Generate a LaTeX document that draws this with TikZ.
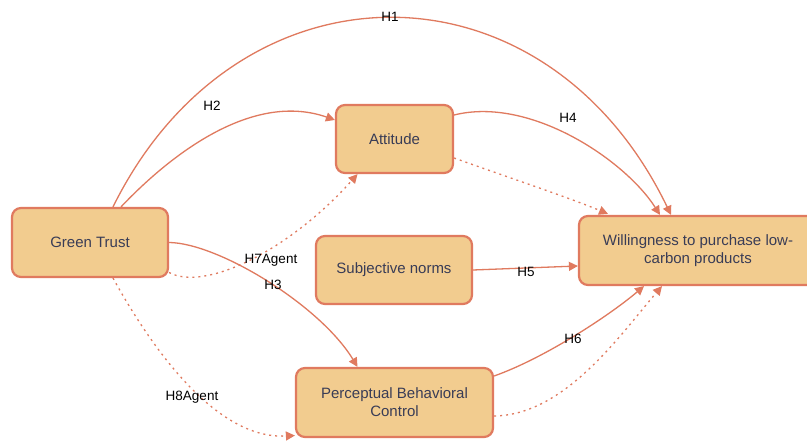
\documentclass[tikz,border=0pt]{standalone}
\usepackage{fontspec}
\setmainfont{Liberation Sans}
\usetikzlibrary{arrows.meta}
\definecolor{boxfill}{HTML}{F2CC8F}
\definecolor{boxline}{HTML}{E07A5F}
\definecolor{boxtext}{HTML}{393C56}
\begin{document}
\begin{tikzpicture}[x=1pt,y=-1pt,
  box/.style={draw=boxline, line width=2.2pt, fill=boxfill, rounded corners=9pt,
    text=boxtext, font=\fontsize{15}{18}\selectfont, align=center, inner sep=0pt},
  link/.style={draw=boxline, line width=1.3pt, -{Triangle[length=9pt,width=9pt]}},
  dotlink/.style={link, dash pattern=on 2pt off 4pt},
  lab/.style={font=\fontsize{13.5}{16}\selectfont, text=black, inner sep=1pt}]
\useasboundingbox (0,0) rectangle (807,443);
\fill[white] (0,0) rectangle (807,443);

\node[box, minimum width=156pt, minimum height=69pt] (gt) at (90,242.5) {\raisebox{-1.5pt}{Green Trust}};
\node[box, minimum width=117pt, minimum height=68pt] (at) at (394.5,139) {\raisebox{-1.5pt}{Attitude}};
\node[box, minimum width=156pt, minimum height=68pt] (sn) at (394,270) {\raisebox{-2pt}{Subjective norms}};
\node[box, minimum width=238pt, minimum height=69pt] (wp) at (698,250.5) {Willingness to purchase low-\\carbon products};
\node[box, minimum width=197pt, minimum height=69pt] (pb) at (394.5,402.5) {Perceptual Behavioral\\Control};

% H1
\draw[link] ([xshift=23pt]gt.north) .. controls (238,-46) and (545,-46) .. ([xshift=-27pt]wp.north);
% H2
\draw[link] ([xshift=31pt]gt.north) .. controls (175,150) and (255,92) .. ([yshift=19pt]at.west);
% H4
\draw[link] ([yshift=24pt]at.east) .. controls (530,96) and (625,160) .. ([xshift=-38pt]wp.north);
% Attitude -> Willingness dotted
\draw[dotlink] ([yshift=-19pt]at.east) .. controls (510,178) and (570,198) .. ([xshift=-90pt,yshift=1pt]wp.north);
% H7Agent
\draw[dotlink] ([yshift=-30pt]gt.east) .. controls (205,292) and (290,250) .. ([xshift=-37pt]at.south);
% H3
\draw[link] (gt.east) .. controls (218,243) and (320,305) .. ([xshift=-37pt]pb.north);
% H5
\draw[link] (sn.east) -- ([yshift=-15.5pt]wp.west);
% H6
\draw[link] ([yshift=26.5pt]pb.east) .. controls (545,358) and (610,315) .. ([xshift=-54pt]wp.south);
% PBC -> Willingness dotted
\draw[dotlink] ([yshift=-13.5pt]pb.east) .. controls (565,415) and (620,335) .. ([xshift=-36pt]wp.south);
% H8Agent
\draw[dotlink] ([xshift=23pt]gt.south) .. controls (150,345) and (215,440) .. ([yshift=-33pt]pb.west);

\node[lab] (l1) at (390,17) {H1};
\node[lab] (l2) at (212,106) {H2};
\node[lab] (l4) at (568,118) {H4};
\node[lab] (l7) at (271,260) {H7Agent};
\node[lab] (l3) at (273,285) {H3};
\node[lab] (l5) at (526,272) {H5};
\node[lab] (l6) at (573,339) {H6};
\node[lab] (l8) at (192,397) {H8Agent};
\end{tikzpicture}
\end{document}
